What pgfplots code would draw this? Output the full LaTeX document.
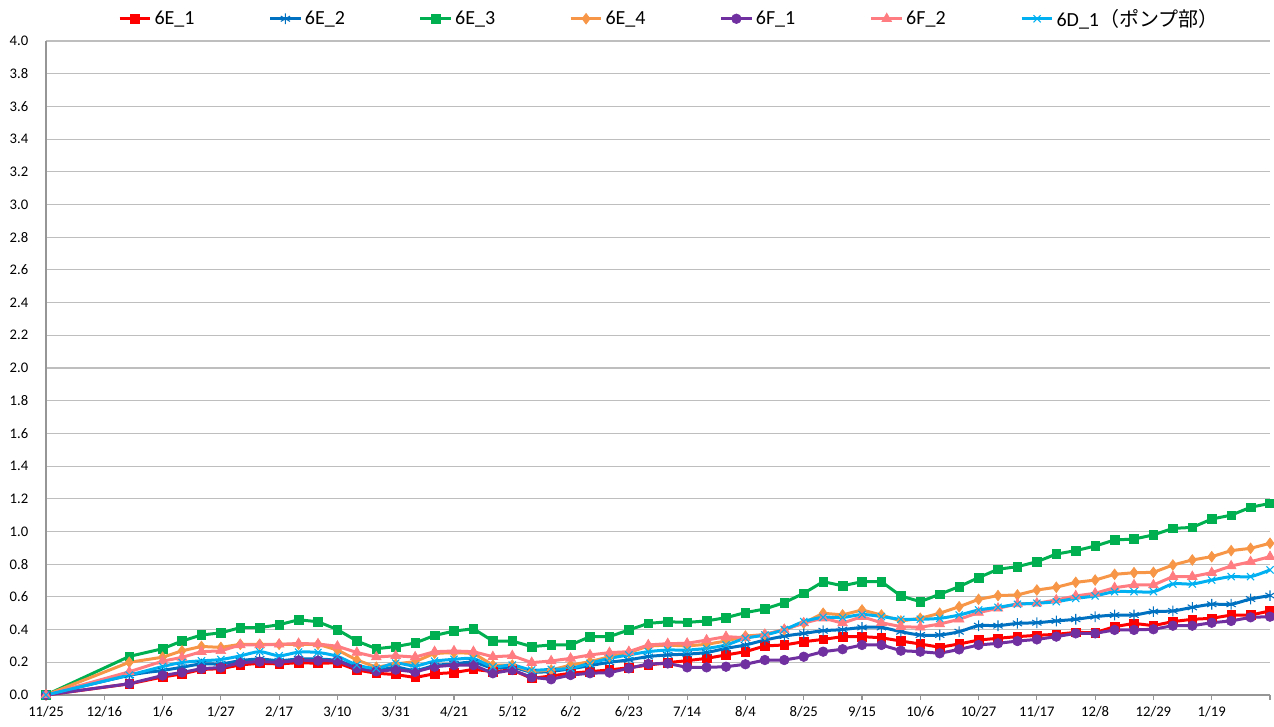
\documentclass[border=0pt]{standalone}
\usepackage{pgfplots}
\usepackage{pgfplotstable}
\pgfplotsset{compat=1.18}
\usepackage{fontspec}
\setmainfont{Carlito}
\newfontfamily\jp{Noto Sans CJK JP}
\definecolor{cE1}{RGB}{255,0,0}
\definecolor{cE2}{RGB}{0,112,192}
\definecolor{cE3}{RGB}{0,176,80}
\definecolor{cE4}{RGB}{247,150,70}
\definecolor{cF1}{RGB}{112,48,160}
\definecolor{cF2}{RGB}{255,124,128}
\definecolor{cD1}{RGB}{0,176,240}
\definecolor{gridc}{RGB}{190,190,190}
\definecolor{axisc}{RGB}{150,150,150}
\pgfplotstableread{
day e1 e2 e3 e4 f1 f2 d1
0 0 0 0 0 0 0 0
30 0.068 0.12 0.236 0.200 0.069 0.142 0.122
42 0.110 0.15 0.283 0.231 0.119 0.207 0.174
49 0.129 0.17 0.330 0.270 0.138 0.230 0.199
56 0.156 0.19 0.367 0.297 0.161 0.265 0.209
63 0.161 0.19 0.380 0.291 0.168 0.270 0.217
70 0.184 0.21 0.412 0.310 0.198 0.306 0.239
77 0.194 0.22 0.412 0.310 0.204 0.306 0.265
84 0.190 0.21 0.430 0.310 0.200 0.310 0.240
91 0.198 0.22 0.460 0.310 0.212 0.315 0.262
98 0.194 0.22 0.448 0.310 0.210 0.312 0.260
105 0.197 0.21 0.400 0.275 0.209 0.298 0.236
112 0.153 0.17 0.330 0.214 0.163 0.260 0.184
119 0.133 0.15 0.283 0.170 0.145 0.232 0.163
126 0.125 0.17 0.296 0.190 0.155 0.240 0.195
133 0.107 0.15 0.318 0.204 0.141 0.232 0.178
140 0.130 0.18 0.364 0.255 0.173 0.265 0.207
147 0.137 0.19 0.391 0.259 0.183 0.269 0.218
154 0.157 0.20 0.405 0.255 0.183 0.265 0.222
161 0.143 0.165 0.330 0.183 0.133 0.234 0.173
168 0.153 0.17 0.330 0.183 0.153 0.240 0.183
175 0.102 0.14 0.296 0.143 0.108 0.198 0.153
182 0.116 0.145 0.306 0.153 0.096 0.208 0.157
189 0.133 0.16 0.306 0.183 0.122 0.224 0.163
196 0.143 0.18 0.357 0.204 0.133 0.245 0.194
203 0.153 0.20 0.357 0.234 0.137 0.259 0.224
210 0.167 0.215 0.398 0.259 0.163 0.265 0.245
217 0.183 0.235 0.438 0.300 0.190 0.306 0.265
224 0.198 0.245 0.448 0.305 0.193 0.314 0.275
231 0.210 0.25 0.444 0.300 0.169 0.316 0.275
238 0.224 0.26 0.453 0.310 0.169 0.336 0.285
245 0.245 0.285 0.473 0.330 0.173 0.357 0.306
252 0.265 0.306 0.504 0.360 0.188 0.350 0.347
259 0.300 0.336 0.526 0.370 0.214 0.370 0.367
266 0.306 0.36 0.565 0.400 0.214 0.400 0.400
273 0.326 0.377 0.622 0.440 0.234 0.440 0.449
280 0.340 0.393 0.693 0.500 0.265 0.470 0.475
287 0.357 0.40 0.668 0.490 0.280 0.440 0.474
294 0.357 0.413 0.693 0.520 0.306 0.479 0.492
301 0.350 0.413 0.693 0.489 0.306 0.442 0.480
308 0.330 0.387 0.606 0.453 0.271 0.418 0.463
315 0.312 0.367 0.571 0.469 0.265 0.414 0.463
322 0.292 0.367 0.616 0.500 0.255 0.434 0.469
329 0.312 0.387 0.663 0.540 0.279 0.463 0.489
336 0.336 0.424 0.718 0.585 0.306 0.504 0.520
343 0.347 0.424 0.769 0.608 0.316 0.530 0.536
350 0.357 0.438 0.785 0.612 0.330 0.557 0.555
357 0.365 0.442 0.815 0.642 0.340 0.561 0.561
364 0.371 0.453 0.862 0.659 0.357 0.581 0.571
371 0.383 0.463 0.883 0.689 0.377 0.606 0.591
378 0.381 0.479 0.911 0.703 0.377 0.622 0.606
385 0.418 0.489 0.948 0.738 0.398 0.656 0.632
392 0.438 0.489 0.954 0.748 0.398 0.673 0.632
399 0.424 0.510 0.979 0.750 0.402 0.673 0.632
406 0.449 0.514 1.019 0.795 0.424 0.724 0.679
413 0.463 0.536 1.025 0.826 0.424 0.724 0.679
420 0.469 0.555 1.076 0.846 0.442 0.748 0.703
427 0.489 0.555 1.100 0.883 0.453 0.789 0.724
434 0.489 0.587 1.148 0.897 0.475 0.815 0.724
441 0.514 0.608 1.172 0.928 0.479 0.846 0.765
}\datatable
\begin{document}
\begin{tikzpicture}
\path[use as bounding box] (-34.5pt,-24pt) rectangle (921pt,521.25pt);
\begin{axis}[
  scale only axis,
  width=918pt, height=490.5pt,
  xmin=0, xmax=441, ymin=0, ymax=4,
  clip=false,
  axis x line*=bottom, axis y line*=left,
  axis line style={-, draw=axisc, line width=0.8pt},
  xtick={0,21,...,441},
  xticklabels={11/25,12/16,1/6,1/27,2/17,3/10,3/31,4/21,5/12,6/2,6/23,7/14,8/4,8/25,9/15,10/6,10/27,11/17,12/8,12/29,1/19,{}},
  ytick={0,0.2,...,4.01},
  yticklabel={\pgfmathprintnumber[fixed,fixed zerofill,precision=1]{\tick}},
  /pgf/number format/assume math mode=true,
  ymajorgrids, grid style={draw=gridc, line width=0.8pt},
  tick align=outside,
  x tick style={draw=axisc, line width=0.8pt},
  major tick length=3.75pt,
  y tick style={draw=none},
  yticklabel style={xshift=-6pt},
  xticklabel style={yshift=-1pt},
  tick label style={font=\fontsize{11}{13}\selectfont, text=black},
  legend style={at={(axis description cs:0.0588,1.034)}, anchor=west, draw=none, fill=none,
    font=\fontsize{15}{17}\selectfont, inner sep=0pt,
    /tikz/every even column/.style={column sep=0pt}},
  legend columns=-1,
  legend cell align=left,
  legend image code/.code={\draw[#1, mark repeat=2, mark phase=2] plot coordinates {(0pt,0pt)(11.5pt,0pt)(23pt,0pt)};},
  every axis plot/.append style={line width=2.25pt},
]
\addplot[color=cE1, mark=square*, mark size=3.2pt, mark options={solid, fill=cE1, line width=0.5pt}] table[x=day,y=e1]{\datatable};
\addlegendentry{\makebox[83.5pt][l]{6E\_1}}
\addplot[color=cE2, smooth, tension=0.5, mark=asterisk, mark size=4pt, mark options={solid, line width=0.8pt}] table[x=day,y=e2]{\datatable};
\addlegendentry{\makebox[83.5pt][l]{6E\_2}}
\addplot[color=cE3, mark=square*, mark size=3.2pt, mark options={solid, fill=cE3, line width=0.5pt}] table[x=day,y=e3]{\datatable};
\addlegendentry{\makebox[83.5pt][l]{6E\_3}}
\addplot[color=cE4, mark=diamond*, mark size=4pt, mark options={solid, fill=cE4, line width=0.5pt}] table[x=day,y=e4]{\datatable};
\addlegendentry{\makebox[83.5pt][l]{6E\_4}}
\addplot[color=cF1, mark=*, mark size=3.6pt, mark options={solid, fill=cF1, line width=0.5pt}] table[x=day,y=f1]{\datatable};
\addlegendentry{\makebox[83.5pt][l]{6F\_1}}
\addplot[color=cF2, mark=triangle*, mark size=4.2pt, mark options={solid, fill=cF2, line width=0.5pt}] table[x=day,y=f2]{\datatable};
\addlegendentry{\makebox[83.5pt][l]{6F\_2}}
\addplot[color=cD1, smooth, tension=0.5, mark=x, mark size=3.8pt, mark options={solid, line width=0.8pt}] table[x=day,y=d1]{\datatable};
\addlegendentry{6D\_1{\jp （ポンプ部）}}
\end{axis}
\end{tikzpicture}
\end{document}
